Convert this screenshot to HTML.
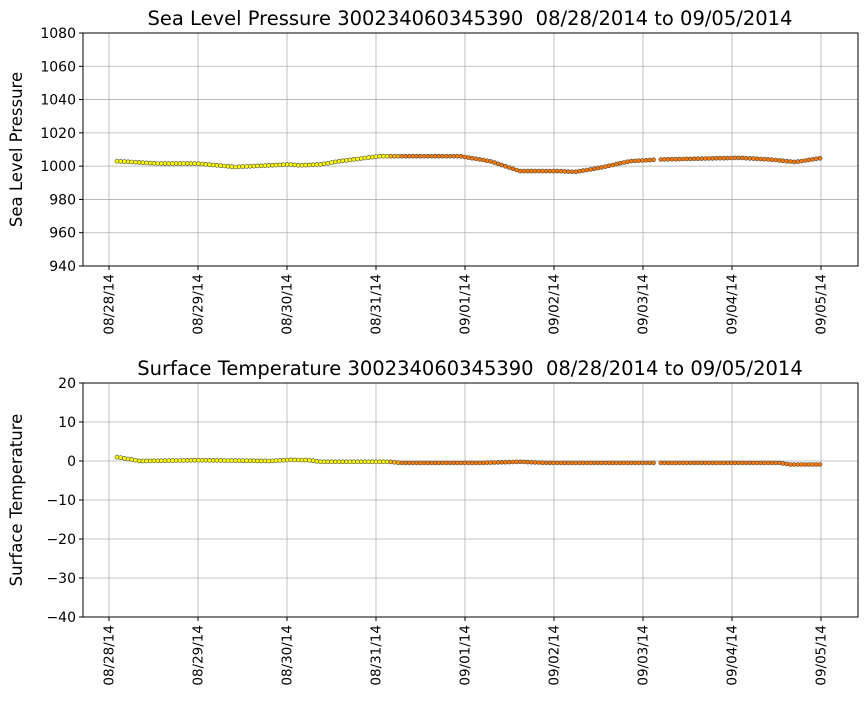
<!DOCTYPE html><html><head><style>body{margin:0;background:#fff}svg{font-family:"DejaVu Sans","Liberation Sans",sans-serif}</style></head><body>
<svg id="s" width="867" height="700" xmlns="http://www.w3.org/2000/svg"></svg>
<script>
const s=document.getElementById('s');let h='';
const ticksX=[109,198,287,376,465,554,643,732,821];
const lab=['08/28/14','08/29/14','08/30/14','08/31/14','09/01/14','09/02/14','09/03/14','09/04/14','09/05/14'];
function interp(pts,x){for(let i=0;i<pts.length-1;i++){if(x>=pts[i][0]&&x<=pts[i+1][0]){const t=(x-pts[i][0])/(pts[i+1][0]-pts[i][0]);return pts[i][1]+t*(pts[i+1][1]-pts[i][1]);}}return pts[pts.length-1][1];}
function panel(top,bot,ymin,ymax,step,title,ylab,pts,fmt){
 const L=83,R=858;const Y=v=>top+(ymax-v)*(bot-top)/(ymax-ymin);
 h+=`<rect x="${L}" y="${top}" width="${R-L}" height="${bot-top}" fill="#fff"/>`;
 for(const x of ticksX)h+=`<line x1="${x}" y1="${top}" x2="${x}" y2="${bot}" stroke="#b0b0b0" stroke-width="0.8"/>`;
 for(let v=ymin;v<=ymax;v+=step){const y=Y(v);h+=`<line x1="${L}" y1="${y}" x2="${R}" y2="${y}" stroke="#b0b0b0" stroke-width="0.8"/><line x1="${L-4}" y1="${y}" x2="${L}" y2="${y}" stroke="#000"/><text x="${L-7}" y="${y+5}" font-size="14" text-anchor="end">${fmt(v)}</text>`;}
 ticksX.forEach((x,i)=>{h+=`<line x1="${x}" y1="${bot}" x2="${x}" y2="${bot+4}" stroke="#000"/><text transform="translate(${x+4.5},${bot+8}) rotate(-90)" font-size="13.5" text-anchor="end">${lab[i]}</text>`;});
 for(let x=117;x<=823;x+=3.7){if(x>655&&x<660)continue;const v=interp(pts,x);let c;if(x<390)c='#ffff00';else if(x<400)c='#ffb000';else c='#ff7a00';
  h+=`<circle cx="${x.toFixed(1)}" cy="${Y(v).toFixed(1)}" r="2" fill="${c}" stroke="#444" stroke-width="0.6"/>`;}
 h+=`<rect x="${L}" y="${top}" width="${R-L}" height="${bot-top}" fill="none" stroke="#000" stroke-width="1"/>`;
 h+=`<text x="470" y="${top-8}" font-size="19.5" text-anchor="middle" xml:space="preserve">${title}</text>`;
 h+=`<text transform="translate(22,${(top+bot)/2}) rotate(-90)" font-size="16.5" text-anchor="middle">${ylab}</text>`;
}
panel(33,266,940,1080,20,'Sea Level Pressure 300234060345390\u00a0 08/28/2014 to 09/05/2014','Sea Level Pressure',
[[117,1003],[160,1001.5],[198,1001.5],[235,999.5],[290,1001],[300,1000.5],[320,1001],[340,1003],[380,1006],[460,1006],[490,1003],[520,997],[560,997],[575,996.5],[600,999],[630,1003],[660,1004],[740,1005],[770,1004],[795,1002.5],[823,1005]],v=>v);
panel(383,617,-40,20,10,'Surface Temperature 300234060345390\u00a0 08/28/2014 to 09/05/2014','Surface Temperature',
[[117,1],[140,0],[200,0.2],[270,0],[290,0.3],[310,0.2],[320,-0.2],[390,-0.2],[400,-0.5],[480,-0.5],[520,-0.2],[550,-0.5],[780,-0.5],[790,-0.9],[823,-0.9]],v=>v<0?'\u2212'+(-v):v);
s.innerHTML=h;
</script></body></html>
